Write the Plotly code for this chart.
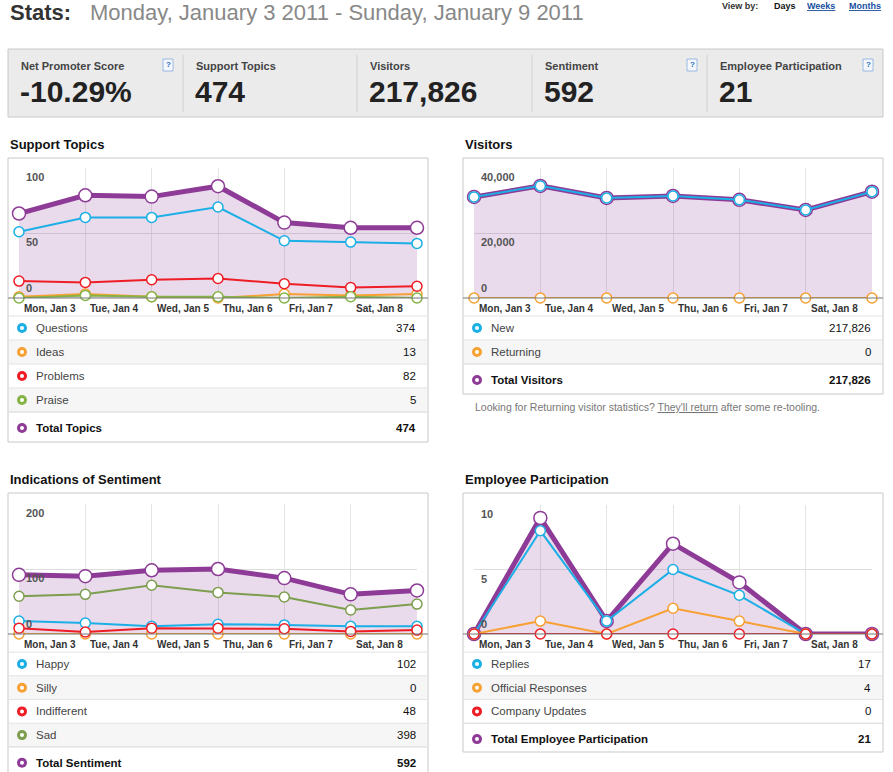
import plotly.graph_objects as go

W, H = 893, 772
FONT = "Liberation Sans"

days = ["Mon, Jan 3", "Tue, Jan 4", "Wed, Jan 5", "Thu, Jan 6", "Fri, Jan 7", "Sat, Jan 8", "Sun, Jan 9"]

# support topics
questions = [51, 62, 62, 70, 44, 43, 42]
ideas = [1, 3, 1, 0, 3, 2, 3]
problems = [13, 12, 14, 15, 11, 8, 9]
praise = [0, 2, 1, 1, 0, 1, 0]
topics_total = [65, 79, 78, 86, 58, 54, 54]

# visitors
visitors_new = [31100, 34500, 30800, 31400, 30200, 27100, 32726]
visitors_ret = [0, 0, 0, 0, 0, 0, 0]
visitors_total = visitors_new

# sentiment
happy = [20, 17, 12, 15, 14, 12, 12]
silly = [0, 0, 0, 0, 0, 0, 0]
indifferent = [9, 3, 9, 9, 8, 4, 6]
sad = [58, 61, 75, 64, 57, 37, 46]
sentiment_total = [91, 89, 98, 100, 86, 61, 67]

# employee participation
replies = [0, 8, 1, 5, 3, 0, 0]
official = [0, 1, 0, 2, 1, 0, 0]
company = [0, 0, 0, 0, 0, 0, 0]
emp_total = [0, 9, 1, 7, 4, 0, 0]

stat_labels = ["Net Promoter Score", "Support Topics", "Visitors", "Sentiment", "Employee Participation"]
stat_values = ["-10.29%", "474", "217,826", "592", "21"]
stat_help = [True, False, False, True, True]

BLUE, ORANGE, RED, GREEN, SAD = "#1bafe6", "#f7a033", "#ee1d25", "#84b446", "#7c9e4e"
PURPLE = "#8d3b96"
FILL = "rgba(160,90,170,0.22)"

def X(p): return p / W
def Y(p): return 1 - p / H

fig = go.Figure()
shapes, annos = [], []

def txt(x, y, s, size=12, color="#333", bold=False, xa="left", ya="middle"):
    if bold:
        s = "<b>" + s + "</b>"
    annos.append(dict(x=X(x), y=Y(y), xref="paper", yref="paper", text=s, showarrow=False,
                      xanchor=xa, yanchor=ya, font=dict(family=FONT, size=size, color=color)))

def rect(x0, y0, x1, y1, fill=None, line="#cccccc", w=1):
    shapes.append(dict(type="rect", xref="paper", yref="paper", x0=X(x0), x1=X(x1), y0=Y(y0), y1=Y(y1),
                       fillcolor=fill or "rgba(0,0,0,0)", line=dict(color=line, width=w), layer="below"))

def hline(x0, x1, y, color="#e3e3e3", w=1):
    shapes.append(dict(type="line", xref="paper", yref="paper", x0=X(x0), x1=X(x1), y0=Y(y), y1=Y(y),
                       line=dict(color=color, width=w)))

def dot(x, y, color):
    shapes.append(dict(type="circle", xref="paper", yref="paper", x0=X(x - 5), x1=X(x + 5), y0=Y(y + 5), y1=Y(y - 5),
                       fillcolor=color, line=dict(width=0)))
    shapes.append(dict(type="circle", xref="paper", yref="paper", x0=X(x - 2), x1=X(x + 2), y0=Y(y + 2), y1=Y(y - 2),
                       fillcolor="white", line=dict(width=0)))

# header
txt(8, 13, "Stats:", 22, "#333", True)
txt(88, 13, "Monday, January 3 2011 - Sunday, January 9 2011", 22, "#888")
txt(720, 6, "<b>View by:</b>", 9, "#333")
txt(772, 6, "<b>Days</b>", 9, "#111")
txt(805, 6, "<b><u>Weeks</u></b>", 9, "#1a4fa0")
txt(847, 6, "<b><u>Months</u></b>", 9, "#1a4fa0")

# stats bar
rect(8, 49, 883, 117, "#ebebeb", "#c8c8c8")
xs = [8, 183, 357, 532, 707]
for i, (lab, val, hp) in enumerate(zip(stat_labels, stat_values, stat_help)):
    x0 = xs[i]
    if i > 0:
        shapes.append(dict(type="line", xref="paper", yref="paper", x0=X(x0), x1=X(x0), y0=Y(55), y1=Y(112),
                           line=dict(color="#d0d0d0", width=1)))
    txt(x0 + 11, 66, lab, 11, "#444", True)
    txt(x0 + 10, 92, val, 30, "#222", True)
    if hp:
        hx = xs[i + 1] - 15 if i < 4 else 868
        rect(hx - 5, 59, hx + 5, 71, "#f4f8fd", "#9ab8e0")
        txt(hx, 65, "<b>?</b>", 8, "#2a6ac0", xa="center")

def panel(title, px0, py0, px1, py1, tx):
    txt(px0, tx, title, 13, "#111", True)
    rect(px0, py0, px1, py1, "white", "#c8c8c8")

def chart(ax, dom_x, dom_y, yrange, yticks, series, total, tcolor):
    xa, ya = ("xaxis" + ax), ("yaxis" + ax)
    ref = ax if ax else ""
    for vals, col in series:
        fig.add_trace(go.Scatter(x=list(range(7)), y=vals, mode="lines+markers", xaxis="x" + ref, yaxis="y" + ref,
                                 line=dict(color=col, width=2), cliponaxis=False, hoverinfo="skip",
                                 marker=dict(size=10, color="white", line=dict(color=col, width=1.5))))
    fig.add_trace(go.Scatter(x=list(range(7)), y=total, mode="lines+markers", xaxis="x" + ref, yaxis="y" + ref,
                             fill="tozeroy", fillcolor=FILL, cliponaxis=False, hoverinfo="skip",
                             line=dict(color=tcolor, width=5),
                             marker=dict(size=13, color="white", line=dict(color=tcolor, width=1.5))))
    # total (with its fill) goes beneath the other series
    fig.data = fig.data[:-len(series) - 1] + (fig.data[-1],) + fig.data[-len(series) - 1:-1]
    fig.update_layout(**{
        xa: dict(domain=[X(dom_x[0]), X(dom_x[1])], range=[0, 6], showgrid=True, gridcolor="#e4e4e4",
                 tickvals=list(range(7)), showticklabels=False, zeroline=False, showline=False,
                 anchor="y" + ref, fixedrange=True),
        ya: dict(domain=[Y(dom_y[1]), Y(dom_y[0])], range=yrange, tickvals=yticks, showticklabels=False,
                 gridcolor="#dddddd", zeroline=False, anchor="x" + ref, fixedrange=True),
    })
    for t in yticks:
        annos.append(dict(x=0, y=t, xref="x" + ref, yref="y" + ref, text="<b>%s</b>" % f"{t:,}",
                          showarrow=False, xanchor="left", yanchor="bottom" if t == 0 else "top",
                          xshift=5, yshift=2 if t == 0 else -1,
                          font=dict(family=FONT, size=11, color="#555")))
    for i, d in enumerate(days[:6]):
        annos.append(dict(x=i, y=0, xref="x" + ref, yref="y" + ref, text="<b>%s</b>" % d, showarrow=False,
                          xanchor="left", yanchor="top", xshift=3, yshift=-3,
                          font=dict(family=FONT, size=10, color="#333")))

def table(px0, px1, rows, total_row, y0, step=24):
    for k, (name, val, col) in enumerate(rows):
        yc = y0 + k * step
        if k % 2 == 1:
            rect(px0 + 1, yc - step / 2, px1 - 1, yc + step / 2, "#f6f6f6", "rgba(0,0,0,0)")
        hline(px0 + 1, px1 - 1, yc - step / 2)
        dot(px0 + 14, yc, col)
        txt(px0 + 26, yc, name, 11.5, "#444")
        txt(px1 - 10, yc, f"{val:,}", 11.5, "#111", xa="right")
    yt = y0 + len(rows) * step + 4
    hline(px0 + 1, px1 - 1, yt - step / 2 - 4, "#d5d5d5")
    dot(px0 + 14, yt, total_row[2])
    txt(px0 + 26, yt, total_row[0], 11.5, "#111", True)
    txt(px1 - 10, yt, f"{total_row[1]:,}", 11.5, "#111", True, xa="right")

# Support topics
panel("Support Topics", 8, 158, 428, 442, 144)
chart("", (19, 417), (168, 298), [0, 100], [0, 50, 100],
      [(questions, BLUE), (ideas, ORANGE), (problems, RED), (praise, GREEN)], topics_total, PURPLE)
hline(8, 428, 298, "#777", 1)
table(8, 428, [("Questions", sum(questions), BLUE), ("Ideas", sum(ideas), ORANGE),
               ("Problems", sum(problems), RED), ("Praise", sum(praise), GREEN)],
      ("Total Topics", sum(topics_total), PURPLE), 328)

# Visitors
panel("Visitors", 463, 158, 883, 394, 144)
chart("2", (474, 872), (168, 298), [0, 40000], [0, 20000, 40000],
      [(visitors_new, BLUE), (visitors_ret, ORANGE)], visitors_total, PURPLE)
hline(463, 883, 298, "#777", 1)
table(463, 883, [("New", sum(visitors_new), BLUE), ("Returning", sum(visitors_ret), ORANGE)],
      ("Total Visitors", sum(visitors_total), PURPLE), 328)
txt(473, 407, "Looking for Returning visitor statistics? <u>They'll return</u> after some re-tooling.", 10.5, "#777")

# Sentiment
panel("Indications of Sentiment", 8, 493, 428, 790, 479)
chart("3", (19, 417), (504, 634), [0, 200], [0, 100, 200],
      [(sad, SAD), (happy, BLUE), (silly, ORANGE), (indifferent, RED)], sentiment_total, PURPLE)
hline(8, 428, 634, "#777", 1)
table(8, 428, [("Happy", sum(happy), BLUE), ("Silly", sum(silly), ORANGE),
               ("Indifferent", sum(indifferent), RED), ("Sad", sum(sad), SAD)],
      ("Total Sentiment", sum(sentiment_total), PURPLE), 664, 23.7)

# Employee participation
panel("Employee Participation", 463, 493, 883, 752, 479)
chart("4", (474, 872), (505, 634), [0, 10], [0, 5, 10],
      [(replies, BLUE), (official, ORANGE), (company, RED)], emp_total, PURPLE)
hline(463, 883, 634, "#777", 1)
table(463, 883, [("Replies", sum(replies), BLUE), ("Official Responses", sum(official), ORANGE),
                 ("Company Updates", sum(company), RED)],
      ("Total Employee Participation", sum(emp_total), PURPLE), 664, 23.7)

fig.update_layout(width=W, height=H, margin=dict(l=0, r=0, t=0, b=0), showlegend=False,
                  plot_bgcolor="rgba(0,0,0,0)", paper_bgcolor="white",
                  shapes=shapes, annotations=annos, font=dict(family=FONT))
fig.write_html("out.html", config={"displayModeBar": False},
               post_script="document.body.style.margin='0';document.body.style.overflow='hidden';")
